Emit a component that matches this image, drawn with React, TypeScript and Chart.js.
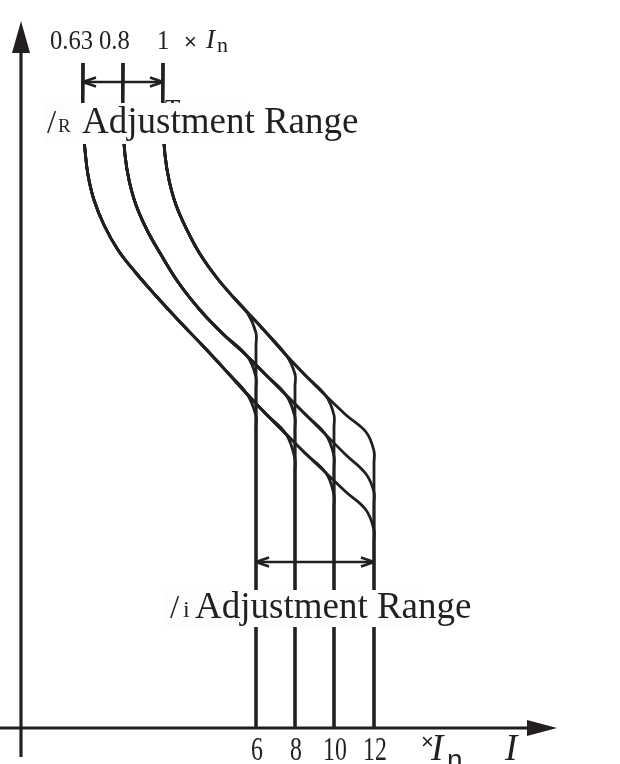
import React, { useEffect, useRef } from 'react';
import { Chart, registerables } from 'chart.js';

Chart.register(...registerables);

// Schematic units: origin where the two axes cross, x = current, y = trip time
const thermalSettings = ['0.63', '0.8', '1'];
const instSettings = ['6', '8', '10', '12'];

// thermal (overload) curves, one per Ir setting
const curve063: number[][] = [
  [62, 665], [62, 603], [64, 578], [67, 553], [73, 528], [83, 503], [97, 478], [115, 455],
  [136, 431], [159, 406], [183, 381], [207, 355], [226, 334], [245, 314], [265, 294],
  [285, 274], [305, 255], [325, 236], [345, 218],
];
const curve08: number[][] = [
  [102, 665], [102, 603], [104, 573], [108, 548], [115, 523], [126, 498], [139, 475], [157, 446],
  [179, 418], [201, 395], [226, 372], [245, 353], [265, 333], [285, 313], [305, 293],
  [325, 273], [345, 254],
];
const curve1: number[][] = [
  [142, 665], [142, 603], [144, 573], [148, 548], [155, 523], [166, 498], [179, 474], [196, 450],
  [214, 429], [226, 416], [241, 400], [265, 373], [285, 352], [305, 332], [325, 313], [345, 296],
];

// instantaneous settings (x position of each vertical) and where each curve turns vertical
const instX = [235, 274, 313, 353];
const knee063 = [312, 269, 233, 198];
const knee08 = [351, 311, 272, 236];
const knee1 = [395, 354, 313, 277];

// range arrows
const thermalArrowY = 646;
const instArrowY = 166;

const INK = '#231f20';

function combined(curve: number[][], knees: number[], j: number) {
  const xv = instX[j];
  const pts = curve.filter((p) => p[0] <= xv - 8).map((p) => ({ x: p[0], y: p[1] }));
  pts.push({ x: xv, y: knees[j] });
  pts.push({ x: xv, y: knees[j] - 12 });
  pts.push({ x: xv, y: 0 });
  return pts;
}

function lineDs(data: { x: number; y: number }[], width: number, tension = 0) {
  return {
    data,
    showLine: true,
    borderColor: INK,
    backgroundColor: INK,
    borderWidth: width,
    pointRadius: 0,
    tension,
    fill: false,
    borderCapStyle: 'butt' as const,
    borderJoinStyle: 'round' as const,
  };
}

function chevron(tipX: number, tipY: number, dir: number) {
  return [
    { x: tipX + dir * 13, y: tipY + 4.5 },
    { x: tipX, y: tipY },
    { x: tipX + dir * 13, y: tipY - 4.5 },
  ];
}

const textPlugin = {
  id: 'schematicText',
  afterDatasetsDraw(chart: any) {
    const ctx: CanvasRenderingContext2D = chart.ctx;
    const xs = chart.scales.x;
    const ys = chart.scales.y;
    const px = (u: number) => xs.getPixelForValue(u);
    const py = (v: number) => ys.getPixelForValue(v);

    const text = (
      s: string, u: number, v: number, font: string, align: CanvasTextAlign = 'left', sx = 1,
    ) => {
      ctx.save();
      ctx.translate(px(u), py(v));
      ctx.scale(sx, 1);
      ctx.font = font;
      ctx.fillStyle = INK;
      ctx.textAlign = align;
      ctx.textBaseline = 'alphabetic';
      ctx.fillText(s, 0, 0);
      ctx.restore();
    };
    const box = (u1: number, v1: number, u2: number, v2: number) => {
      ctx.save();
      ctx.fillStyle = '#fdfdfb';
      ctx.fillRect(px(u1), py(v1), px(u2) - px(u1), py(v2) - py(v1));
      ctx.restore();
    };
    const tri = (pts: number[][]) => {
      ctx.save();
      ctx.fillStyle = INK;
      ctx.beginPath();
      pts.forEach((p, i) => (i ? ctx.lineTo(px(p[0]), py(p[1])) : ctx.moveTo(px(p[0]), py(p[1]))));
      ctx.closePath();
      ctx.fill();
      ctx.restore();
    };

    const serif = '"Liberation Serif", "Times New Roman", serif';
    const sans = '"Liberation Sans", Arial, sans-serif';

    // axis arrowheads
    tri([[0, 707], [-9, 675], [9, 675]]);
    tri([[536, 0], [506, 8], [506, -8]]);

    // top scale labels
    const topX = [29, 78, 136];
    thermalSettings.forEach((s, i) => text(s, topX[i], 679, `28px ${serif}`, 'left', 0.88));
    text('×', 163, 679, `22px ${sans}`);
    text('I', 185, 680, `italic 27px ${serif}`);
    text('n', 196, 676, `22px ${serif}`);

    // partially hidden T
    text('T', 142, 610, `italic 28px ${serif}`);

    // Ir label
    box(22, 625, 227, 584);
    text('/', 26, 595, `33px ${serif}`);
    text('R', 37, 596, `19px ${serif}`);
    text('Adjustment Range', 61, 595, `37px ${serif}`);

    // Ii label
    box(144, 138, 396, 101);
    text('/', 149, 110, `33px ${serif}`);
    text('i', 162, 111, `24px ${serif}`);
    text('Adjustment Range', 174, 110, `37px ${serif}`);

    // bottom tick labels
    instSettings.forEach((s, i) => text(s, instX[i] + 1, -32, `34px ${serif}`, 'center', 0.7));
    text('×', 400, -21, `22px ${sans}`);
    text('I', 410, -32, `italic 37px ${serif}`);
    text('n', 426, -41, `28px ${sans}`);
    text('I', 484, -32, `italic 37px ${serif}`);
  },
};

export default function App() {
  const ref = useRef<HTMLCanvasElement | null>(null);

  useEffect(() => {
    if (!ref.current) return;
    const datasets: any[] = [];
    const curves = [
      [curve063, knee063],
      [curve08, knee08],
      [curve1, knee1],
    ] as [number[][], number[]][];
    curves.forEach(([c, k]) => {
      instX.forEach((_, j) => datasets.push(lineDs(combined(c, k, j), 2.8, 0.4)));
    });
    // axes
    datasets.push(lineDs([{ x: -21, y: 0 }, { x: 510, y: 0 }], 3.2));
    datasets.push(lineDs([{ x: 0, y: -29 }, { x: 0, y: 680 }], 3.2));
    // thermal range arrow
    datasets.push(lineDs([{ x: curve063[0][0], y: thermalArrowY }, { x: curve1[0][0], y: thermalArrowY }], 2.4));
    datasets.push(lineDs(chevron(curve063[0][0], thermalArrowY, 1), 2.4));
    datasets.push(lineDs(chevron(curve1[0][0], thermalArrowY, -1), 2.4));
    // instantaneous range arrow
    datasets.push(lineDs([{ x: instX[0], y: instArrowY }, { x: instX[3], y: instArrowY }], 2.4));
    datasets.push(lineDs(chevron(instX[0], instArrowY, 1), 2.4));
    datasets.push(lineDs(chevron(instX[3], instArrowY, -1), 2.4));

    const chart = new Chart(ref.current, {
      type: 'scatter',
      data: { datasets },
      options: {
        animation: false,
        responsive: false,
        maintainAspectRatio: false,
        layout: { padding: 0 },
        plugins: { legend: { display: false }, tooltip: { enabled: false } },
        scales: {
          x: { type: 'linear', min: -21, max: 599, display: false },
          y: { type: 'linear', min: -36, max: 728, display: false },
        },
      },
      plugins: [textPlugin],
    });
    return () => chart.destroy();
  }, []);

  return (
    <div style={{ position: 'absolute', left: 0, top: 0, width: 620, height: 764, background: '#fff' }}>
      <canvas ref={ref} width={620} height={764} />
    </div>
  );
}
